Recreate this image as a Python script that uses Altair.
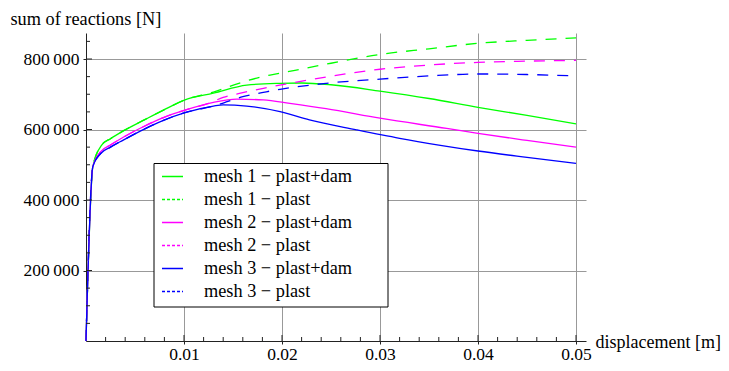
import altair as alt
import pandas as pd

# ---------------- data ----------------
series_names = [
    "mesh 1 \u2212 plast+dam",
    "mesh 1 \u2212 plast",
    "mesh 2 \u2212 plast+dam",
    "mesh 2 \u2212 plast",
    "mesh 3 \u2212 plast+dam",
    "mesh 3 \u2212 plast",
]
series_kind = ["dam", "plast", "dam", "plast", "dam", "plast"]

m1_dam_x = [0, 0.0007, 0.0016, 0.0025, 0.0038, 0.006, 0.0079, 0.0101, 0.013, 0.0164, 0.0197, 0.022, 0.025, 0.03, 0.035, 0.04, 0.045, 0.05]
m1_dam_y = [0, 495000, 556000, 574000, 596000, 628000, 655000, 684000, 703000, 726000, 731000, 732000, 727000, 709000, 688000, 663000, 640000, 616000]

m1_pl_x = [0, 0.0007, 0.0016, 0.0025, 0.0038, 0.006, 0.0079, 0.0101, 0.013, 0.0156, 0.0177, 0.0197, 0.025, 0.03, 0.035, 0.04, 0.045, 0.05]
m1_pl_y = [0, 495000, 556000, 574000, 596000, 628000, 655000, 684000, 706000, 731000, 748000, 759000, 788000, 813000, 829000, 844500, 853000, 860000]

m2_dam_x = [0, 0.0007, 0.0015, 0.0025, 0.0038, 0.006, 0.0079, 0.0101, 0.013, 0.0154, 0.0181, 0.0208, 0.0245, 0.03, 0.0368, 0.04, 0.045, 0.05]
m2_dam_y = [0, 495000, 537000, 556000, 578000, 610000, 634000, 655000, 677000, 686000, 684000, 674000, 659000, 632000, 603000, 589000, 569000, 550000]

m2_pl_x = [0, 0.0007, 0.0015, 0.0025, 0.0038, 0.006, 0.0079, 0.0101, 0.0125, 0.014, 0.016, 0.0181, 0.0208, 0.0245, 0.03, 0.035, 0.04, 0.045, 0.05]
m2_pl_y = [0, 495000, 537000, 556000, 578000, 610000, 634000, 655000, 674000, 691000, 704500, 717000, 731000, 749000, 771000, 783000, 790500, 794000, 796000]

m3_dam_x = [0, 0.0007, 0.0015, 0.0025, 0.0038, 0.006, 0.0079, 0.0101, 0.013, 0.014, 0.0164, 0.0198, 0.0228, 0.0276, 0.032, 0.036, 0.04, 0.045, 0.05]
m3_dam_y = [0, 495000, 532000, 550000, 570000, 602000, 626000, 648000, 666500, 670000, 666500, 650500, 627000, 599000, 575000, 556000, 539000, 521000, 504000]

m3_pl_x = [0, 0.0007, 0.0015, 0.0025, 0.0038, 0.006, 0.0079, 0.0101, 0.013, 0.014, 0.016, 0.0184, 0.0198, 0.0245, 0.03, 0.035, 0.04, 0.045, 0.05]
m3_pl_y = [0, 495000, 532000, 550000, 570000, 602000, 626000, 648000, 666500, 675000, 693000, 707000, 714000, 731000, 743000, 752000, 757500, 756000, 752000]

x_major_ticks = [0.01, 0.02, 0.03, 0.04, 0.05]
x_minor_ticks = [0.002, 0.004, 0.006, 0.008, 0.012, 0.014, 0.016, 0.018,
                 0.022, 0.024, 0.026, 0.028, 0.032, 0.034, 0.036, 0.038,
                 0.042, 0.044, 0.046, 0.048]
y_major_ticks = [200000, 400000, 600000, 800000]
y_minor_ticks = [50000, 100000, 150000, 250000, 300000, 350000, 450000, 500000,
                 550000, 650000, 700000, 750000, 850000]

colors = ["#00ff00", "#00ff00", "#ff00ff", "#ff00ff", "#0000ff", "#0000ff"]
legend_dashes = [[1, 0], [3, 2], [1, 0], [3, 2], [1, 0], [3, 2]]

# ---------------- table ----------------
all_x = [m1_dam_x, m1_pl_x, m2_dam_x, m2_pl_x, m3_dam_x, m3_pl_x]
all_y = [m1_dam_y, m1_pl_y, m2_dam_y, m2_pl_y, m3_dam_y, m3_pl_y]
rows = []
for name, kind, xs_, ys_ in zip(series_names, series_kind, all_x, all_y):
    for xv, yv in zip(xs_, ys_):
        rows.append({"series": name, "kind": kind, "x": xv, "y": yv})
df = pd.DataFrame(rows)

FONT = "Liberation Serif"
FS = 17.5
FS_BIG = 18.3
W, H = 500, 308
AX = "#222222"

xscale = alt.Scale(domain=[0, 0.05102], nice=False, zero=False)
yscale = alt.Scale(domain=[0, 873800], nice=False, zero=False)
cscale = alt.Scale(domain=series_names, range=colors)

legend = alt.Legend(
    title=None, orient="none", legendX=68, legendY=130,
    symbolType="stroke", symbolSize=441, symbolStrokeWidth=1.3, symbolOffset=5,
    labelFont=FONT, labelFontSize=FS_BIG, labelColor="black", labelOffset=20,
    labelLimit=0, rowPadding=3, padding=2,
)

xaxis = alt.Axis(
    values=x_major_ticks, format=".2f", grid=True, gridColor="#999999", gridWidth=1,
    domainColor=AX, domainWidth=1, tickColor=AX, tickSize=3,
    labelFont=FONT, labelFontSize=FS, labelColor="black", labelPadding=15,
    labelBaseline="alphabetic", labelFlush=False,
    title="displacement [m]", titleFont=FONT, titleFontSize=18, titleFontWeight="normal",
    titleColor="black", titleAlign="left", titleBaseline="alphabetic", titleX=509, titleY=6,
)
yaxis = alt.Axis(
    values=y_major_ticks, format=",d", grid=True, gridColor="#999999", gridWidth=1,
    domainColor=AX, domainWidth=1, tickColor=AX, tickSize=3,
    labelFont=FONT, labelFontSize=FS, labelColor="black", labelPadding=4,
    title="sum of reactions [N]", titleFont=FONT, titleFontSize=FS_BIG, titleFontWeight="normal",
    titleColor="black", titleAngle=0, titleAlign="left", titleBaseline="alphabetic",
    titleX=-76, titleY=-9,
)

base = alt.Chart(df)

solid = base.transform_filter("datum.kind == 'dam'").mark_line(strokeWidth=1.3, interpolate="monotone").encode(
    x=alt.X("x:Q", scale=xscale, axis=xaxis),
    y=alt.Y("y:Q", scale=yscale, axis=yaxis),
    color=alt.Color("series:N", scale=cscale, legend=legend),
    detail="series:N",
)
dashed = base.transform_filter("datum.kind == 'plast'").mark_line(strokeWidth=1.3, strokeDash=[11, 9], interpolate="monotone").encode(
    x=alt.X("x:Q", scale=xscale, axis=xaxis),
    y=alt.Y("y:Q", scale=yscale, axis=yaxis),
    color=alt.Color("series:N", scale=cscale, legend=legend),
    detail="series:N",
)
# empty layer that only carries the legend dashes (short dashes like the reference legend)
legend_layer = base.transform_filter("datum.x < 0").mark_line(strokeWidth=1.3).encode(
    x=alt.X("x:Q", scale=xscale, axis=xaxis),
    y=alt.Y("y:Q", scale=yscale, axis=yaxis),
    color=alt.Color("series:N", scale=cscale, legend=legend),
    strokeDash=alt.StrokeDash("series:N", scale=alt.Scale(domain=series_names, range=legend_dashes), legend=legend),
)

# white framed box behind the legend
legend_box = alt.Chart(pd.DataFrame({"box": [0]})).mark_rect(fill="white", stroke="black", strokeWidth=1).encode(
    x=alt.value(68), x2=alt.value(302), y=alt.value(130.5), y2=alt.value(274))

xmaj = alt.Chart(pd.DataFrame({"t": x_major_ticks})).mark_rule(color=AX, strokeWidth=1).encode(
    x=alt.X("t:Q", scale=xscale, axis=xaxis), y=alt.value(H), y2=alt.value(H - 6))
xmin = alt.Chart(pd.DataFrame({"t": x_minor_ticks})).mark_rule(color=AX, strokeWidth=1).encode(
    x=alt.X("t:Q", scale=xscale, axis=xaxis), y=alt.value(H), y2=alt.value(H - 4))
ymaj = alt.Chart(pd.DataFrame({"t": y_major_ticks})).mark_rule(color=AX, strokeWidth=1).encode(
    y=alt.Y("t:Q", scale=yscale, axis=yaxis), x=alt.value(0), x2=alt.value(6))
ymin = alt.Chart(pd.DataFrame({"t": y_minor_ticks})).mark_rule(color=AX, strokeWidth=1).encode(
    y=alt.Y("t:Q", scale=yscale, axis=yaxis), x=alt.value(0), x2=alt.value(4))

chart = alt.layer(solid, dashed, legend_layer, legend_box, xmaj, xmin, ymaj, ymin).properties(
    width=W, height=H,
    padding={"left": 78, "top": 25, "right": 135, "bottom": 22},
    autosize=alt.AutoSizeParams(type="none"),
).configure(
    font=FONT,
    locale={"number": {"decimal": ".", "thousands": "\u2009", "grouping": [3], "currency": ["", ""]}},
).configure_view(strokeWidth=0)

chart.save("out.html", embed_options={"renderer": "svg", "actions": False})
